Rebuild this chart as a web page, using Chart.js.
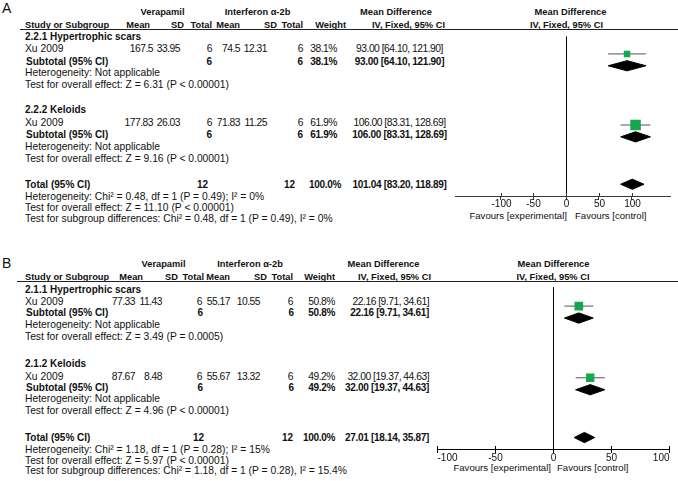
<!DOCTYPE html>
<html><head><meta charset="utf-8">
<script src="https://cdn.jsdelivr.net/npm/chart.js@4/dist/chart.umd.min.js"></script>
<style>
html,body{margin:0;padding:0;background:#fff;width:678px;height:481px;overflow:hidden;}
body{position:relative;font-family:Arial,"Liberation Sans",sans-serif;color:#111;}
.t{position:absolute;white-space:nowrap;line-height:12px;font-size:10.3px;}
.b{font-weight:bold;font-size:10px;}
.h{font-weight:bold;font-size:9.3px;}
.n{letter-spacing:-0.5px;}
.b.n{letter-spacing:-0.3px;}
.hl{position:absolute;height:1px;background:#222;}
canvas{position:absolute;}
</style></head><body>
<script>
// ---------------- DATA ----------------
// Panel A
const groupsA   = ['2.2.1 Hypertrophic scars', '2.2.2 Keloids'];
const studiesA  = ['Xu 2009', 'Xu 2009'];
const expMeanA  = [167.5, 177.83];
const expSdA    = [33.95, 26.03];
const expNA     = [6, 6];
const ctlMeanA  = [74.5, 71.83];
const ctlSdA    = [12.31, 11.25];
const ctlNA     = [6, 6];
const weightA   = [38.1, 61.9];
const mdA       = [93.00, 106.00];
const lowA      = [64.10, 83.31];
const highA     = [121.90, 128.69];
const subMdA    = [93.00, 106.00];
const subLowA   = [64.10, 83.31];
const subHighA  = [121.90, 128.69];
const subHetA   = ['Heterogeneity: Not applicable', 'Heterogeneity: Not applicable'];
const subTestA  = ['Test for overall effect: Z = 6.31 (P < 0.00001)', 'Test for overall effect: Z = 9.16 (P < 0.00001)'];
const totalNA   = [12, 12];
const totalEstA = [101.04, 83.20, 118.89];
const totalTextA = ['Heterogeneity: Chi\u00b2 = 0.48, df = 1 (P = 0.49); I\u00b2 = 0%',
                    'Test for overall effect: Z = 11.10 (P < 0.00001)',
                    'Test for subgroup differences: Chi\u00b2 = 0.48, df = 1 (P = 0.49), I\u00b2 = 0%'];
// Panel B
const groupsB   = ['2.1.1 Hypertrophic scars', '2.1.2 Keloids'];
const studiesB  = ['Xu 2009', 'Xu 2009'];
const expMeanB  = [77.33, 87.67];
const expSdB    = [11.43, 8.48];
const expNB     = [6, 6];
const ctlMeanB  = [55.17, 55.67];
const ctlSdB    = [10.55, 13.32];
const ctlNB     = [6, 6];
const weightB   = [50.8, 49.2];
const mdB       = [22.16, 32.00];
const lowB      = [9.71, 19.37];
const highB     = [34.61, 44.63];
const subMdB    = [22.16, 32.00];
const subLowB   = [9.71, 19.37];
const subHighB  = [34.61, 44.63];
const subHetB   = ['Heterogeneity: Not applicable', 'Heterogeneity: Not applicable'];
const subTestB  = ['Test for overall effect: Z = 3.49 (P = 0.0005)', 'Test for overall effect: Z = 4.96 (P < 0.00001)'];
const totalNB   = [12, 12];
const totalEstB = [27.01, 18.14, 35.87];
const totalTextB = ['Heterogeneity: Chi\u00b2 = 1.18, df = 1 (P = 0.28); I\u00b2 = 15%',
                    'Test for overall effect: Z = 5.97 (P < 0.00001)',
                    'Test for subgroup differences: Chi\u00b2 = 1.18, df = 1 (P = 0.28), I\u00b2 = 15.4%'];
// Shared labels
const expName = 'Verapamil';
const ctlName = 'Interferon \u03b1-2b';
const colHeaders = ['Study or Subgroup', 'Mean', 'SD', 'Total', 'Mean', 'SD', 'Total', 'Weight'];
const effectTitle = 'Mean Difference';
const effectMethod = 'IV, Fixed, 95% CI';
const axisTicks = [-100, -50, 0, 50, 100];
const favourLabels = ['Favours [experimental]', 'Favours [control]'];

// ---------------- LAYOUT (positions only) ----------------
const LAYOUT = {
  A: { label:{x:2,y:8}, h1:12.3, h2:25, line:{y:29,x0:20,x1:678},
       rows:{g:[37,110], s:[49,123], sub:[61.5,135], het:[73,147], test:[85,158.5], tot:184.5, tt:[196.5,207.5,218.5]},
       col:{name:25, sub:26, eM:153, eS:180, eN:212, cM:240, cS:267, cN:303, w:337, ci:399.5, ciAlign:'center'},
       hdr:{verap:162.5, inter:257.5, eM:150, eS:184, eN:212, cM:240, cS:277, cN:303, w:346, md1:396, iv1:408.5, md2:570.5, iv2:566.5},
       subN:{eN:212, cN:303}, tot:{eN:208, cN:295, w:341},
       fav:{y:216, left:567, right:575},
       chart:{left:440, top:29, width:238, bottom:196, padL:15, padR:0, xMin:-169.9, xMax:159.5,
              row0:34.9, pitch:12.4, axisColor:'#3a3a3a', labelDy:8.5, edgeAlign:false} },
  B: { label:{x:2,y:263}, h1:263.5, h2:277, line:{y:281,x0:17,x1:678},
       rows:{g:[290,364], s:[302,377], sub:[313,388], het:[325,399], test:[337,411], tot:438, tt:[450,461,471]},
       col:{name:25, sub:26, eM:135, eS:162, eN:202, cM:230, cS:260, cN:293, w:335, ci:429, ciAlign:'right'},
       hdr:{verap:163.5, inter:250, eM:143, eS:178, eN:204, cM:230, cS:267, cN:293, w:335, md1:383.5, iv1:394.5, md2:553.5, iv2:553},
       subN:{eN:203, cN:294}, tot:{eN:204, cN:293, w:335},
       fav:{y:468, left:551, right:557},
       chart:{left:420, top:281, width:258, bottom:449, padL:17.3, padR:9, xMin:-100, xMax:100,
              row0:288.3, pitch:12.4, axisColor:'#000', labelDy:9, edgeAlign:true} }
};
const AXIS_H = 22;
const SQUARE_PX_PER_WEIGHT = 0.17;
const DIAMOND_HALF = 0.43;
const GREEN = '#12a84b';

// ---------------- helpers ----------------
function addText(txt, x, y, opt) {
  opt = opt || {};
  const d = document.createElement('div');
  d.className = 't' + (opt.bold ? ' b' : '') + (opt.head ? ' h' : '') + (opt.num ? ' n' : '');
  d.textContent = txt;
  d.style.left = x + 'px';
  d.style.top = y + 'px';
  const tx = opt.align === 'right' ? '-100%' : opt.align === 'center' ? '-50%' : '0';
  d.style.transform = 'translate(' + tx + ',-50%)';
  if (opt.size) d.style.fontSize = opt.size + 'px';
  document.body.appendChild(d);
}
function addLine(x0, x1, y) {
  const d = document.createElement('div');
  d.className = 'hl';
  d.style.left = x0 + 'px'; d.style.width = (x1 - x0) + 'px'; d.style.top = y + 'px';
  document.body.appendChild(d);
}
const f2 = v => v.toFixed(2);
const ciText = (m, l, h) => f2(m) + ' [' + f2(l) + ', ' + f2(h) + ']';

const axisExtras = {
  id: 'axisExtras',
  afterDraw(chart, args, o) {
    const s = chart.scales.x, ctx = chart.ctx, y0 = Math.round(s.top);
    ctx.save();
    ctx.strokeStyle = o.color; ctx.lineWidth = 1;
    ctx.fillStyle = '#111';
    ctx.font = '10px Arial, "Liberation Sans", sans-serif';
    ctx.textBaseline = 'middle';
    s.ticks.forEach((t, i) => {
      const x = Math.round(s.getPixelForValue(t.value)) + 0.5;
      ctx.beginPath(); ctx.moveTo(x, y0 - 3); ctx.lineTo(x, y0); ctx.stroke();
      let align = 'center';
      if (o.edgeAlign && i === 0) align = 'left';
      if (o.edgeAlign && i === s.ticks.length - 1) align = 'right';
      ctx.textAlign = align;
      ctx.fillText(String(t.value), x, y0 + o.labelDy);
    });
    ctx.restore();
  }
};

function buildPanel(key, D) {
  const L = LAYOUT[key];
  const C = L.col, H = L.hdr, R = L.rows;
  addText(key, L.label.x, L.label.y, {size: 14});
  addText(expName, H.verap, L.h1, {head:true, align:'center'});
  addText(ctlName, H.inter, L.h1, {head:true, align:'center'});
  addText(effectTitle, H.md1, L.h1, {head:true, align:'center'});
  addText(effectTitle, H.md2, L.h1, {head:true, align:'center'});
  addText(colHeaders[0], C.name, L.h2, {head:true});
  const hx = [H.eM, H.eS, H.eN, H.cM, H.cS, H.cN, H.w];
  for (let i = 1; i < colHeaders.length; i++) addText(colHeaders[i], hx[i-1], L.h2, {head:true, align:'right'});
  addText(effectMethod, H.iv1, L.h2, {head:true, align:'center'});
  addText(effectMethod, H.iv2, L.h2, {head:true, align:'center'});
  addLine(L.line.x0, L.line.x1, L.line.y);

  D.groups.forEach((g, i) => {
    addText(g, C.name, R.g[i], {bold:true});
    const ys = R.s[i];
    addText(D.studies[i], C.name, ys);
    addText(String(D.expMean[i]), C.eM, ys, {align:'right', num:true});
    addText(String(D.expSd[i]), C.eS, ys, {align:'right', num:true});
    addText(String(D.expN[i]), C.eN, ys, {align:'right', num:true});
    addText(String(D.ctlMean[i]), C.cM, ys, {align:'right', num:true});
    addText(String(D.ctlSd[i]), C.cS, ys, {align:'right', num:true});
    addText(String(D.ctlN[i]), C.cN, ys, {align:'right', num:true});
    addText(D.weight[i].toFixed(1) + '%', C.w, ys, {align:'right', num:true});
    addText(ciText(D.md[i], D.low[i], D.high[i]), C.ci, ys, {align:C.ciAlign, num:true});
    const yb = R.sub[i];
    addText('Subtotal (95% CI)', C.sub, yb, {bold:true});
    addText(String(D.expN[i]), L.subN.eN, yb, {bold:true, align:'right'});
    addText(String(D.ctlN[i]), L.subN.cN, yb, {bold:true, align:'right'});
    addText(D.weight[i].toFixed(1) + '%', C.w, yb, {bold:true, align:'right', num:true});
    addText(ciText(D.subMd[i], D.subLow[i], D.subHigh[i]), C.ci, yb, {bold:true, align:C.ciAlign, num:true});
    addText(D.subHet[i], C.name, R.het[i]);
    addText(D.subTest[i], C.name, R.test[i]);
  });
  addText('Total (95% CI)', C.name, R.tot, {bold:true});
  addText(String(D.totalN[0]), L.tot.eN, R.tot, {bold:true, align:'right'});
  addText(String(D.totalN[1]), L.tot.cN, R.tot, {bold:true, align:'right'});
  addText((D.weight.reduce((a, b) => a + b, 0)).toFixed(1) + '%', L.tot.w, R.tot, {bold:true, align:'right', num:true});
  addText(ciText(D.totalEst[0], D.totalEst[1], D.totalEst[2]), C.ci, R.tot, {bold:true, align:C.ciAlign, num:true});
  D.totalText.forEach((t, i) => addText(t, C.name, R.tt[i]));
  addText(favourLabels[0], L.fav.left, L.fav.y, {align:'right', size:9.6});
  addText(favourLabels[1], L.fav.right, L.fav.y, {size:9.6});

  // ---------- chart ----------
  const K = L.chart;
  const cv = document.createElement('canvas');
  const ch = (K.bottom - K.top) + AXIS_H;
  cv.width = K.width; cv.height = ch;
  cv.style.left = K.left + 'px'; cv.style.top = K.top + 'px';
  cv.style.width = K.width + 'px'; cv.style.height = ch + 'px';
  document.body.appendChild(cv);

  // row structure per group: title, study, subtotal, heterogeneity, test, blank; then total
  const studyRow = [], subRow = [];
  let r = 0;
  D.groups.forEach(() => { studyRow.push(r + 1); subRow.push(r + 2); r += 6; });
  const totalRow = r;

  const datasets = [];
  D.md.forEach((m, i) => {
    datasets.push({type:'line', data:[{x:D.low[i], y:studyRow[i]}, {x:D.high[i], y:studyRow[i]}],
      borderColor:'#555', borderWidth:1, pointRadius:0, fill:false, order:2});
  });
  datasets.push({type:'scatter', data:D.md.map((m, i) => ({x:m, y:studyRow[i]})),
    pointStyle:'rect', pointRadius:D.weight.map(w => w * SQUARE_PX_PER_WEIGHT / Math.SQRT2),
    backgroundColor:GREEN, borderWidth:0, order:1});
  const diamond = (m, l, h, row) => ({type:'line',
    data:[{x:l, y:row}, {x:m, y:row - DIAMOND_HALF}, {x:h, y:row}, {x:m, y:row + DIAMOND_HALF}, {x:l, y:row}],
    fill:'shape', backgroundColor:'#000', borderColor:'#000', borderWidth:1, pointRadius:0, order:1});
  D.subMd.forEach((m, i) => datasets.push(diamond(m, D.subLow[i], D.subHigh[i], subRow[i])));
  datasets.push(diamond(D.totalEst[0], D.totalEst[1], D.totalEst[2], totalRow));

  new Chart(cv, {
    type:'scatter',
    data:{datasets},
    options:{
      responsive:false, animation:false, devicePixelRatio:1,
      layout:{padding:{left:K.padL, right:K.padR, top:0, bottom:0}},
      plugins:{legend:{display:false}, tooltip:{enabled:false},
               axisExtras:{color:K.axisColor, labelDy:K.labelDy, edgeAlign:K.edgeAlign}},
      scales:{
        x:{type:'linear', min:K.xMin, max:K.xMax,
           afterBuildTicks:s => { s.ticks = axisTicks.map(v => ({value:v})); },
           afterFit:s => { s.height = AXIS_H; },
           ticks:{display:false},
           grid:{color:c => (c.tick && c.tick.value === 0) ? '#000' : 'rgba(0,0,0,0)',
                 tickColor:K.axisColor, tickLength:4, lineWidth:1, drawTicks:true},
           border:{color:K.axisColor, width:1}},
        y:{type:'linear', display:false, reverse:true,
           min:(K.top - K.row0) / K.pitch, max:(K.bottom - K.row0) / K.pitch}
      }
    },
    plugins:[axisExtras]
  });
}

buildPanel('A', {groups:groupsA, studies:studiesA, expMean:expMeanA, expSd:expSdA, expN:expNA,
  ctlMean:ctlMeanA, ctlSd:ctlSdA, ctlN:ctlNA, weight:weightA, md:mdA, low:lowA, high:highA,
  subMd:subMdA, subLow:subLowA, subHigh:subHighA, subHet:subHetA, subTest:subTestA,
  totalN:totalNA, totalEst:totalEstA, totalText:totalTextA});
buildPanel('B', {groups:groupsB, studies:studiesB, expMean:expMeanB, expSd:expSdB, expN:expNB,
  ctlMean:ctlMeanB, ctlSd:ctlSdB, ctlN:ctlNB, weight:weightB, md:mdB, low:lowB, high:highB,
  subMd:subMdB, subLow:subLowB, subHigh:subHighB, subHet:subHetB, subTest:subTestB,
  totalN:totalNB, totalEst:totalEstB, totalText:totalTextB});
</script>
</body></html>
